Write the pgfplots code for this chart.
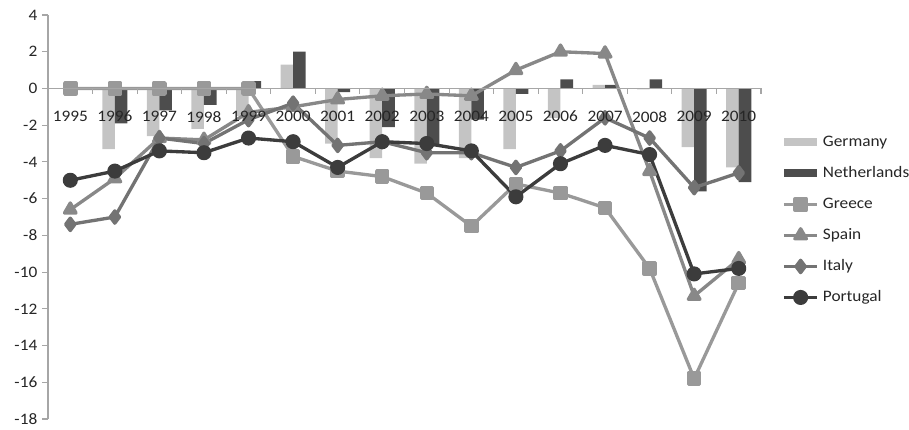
\documentclass[border=0pt]{standalone}
\usepackage{fontspec}
\setmainfont{Carlito}[FakeStretch=1.08]
\usepackage{pgfplots}
\pgfplotsset{compat=1.18}
\usepackage{pgfplotstable}

\definecolor{cger}{HTML}{C4C4C4}
\definecolor{cned}{HTML}{4D4D4D}
\definecolor{cgre}{HTML}{999999}
\definecolor{cspa}{HTML}{888888}
\definecolor{cita}{HTML}{737373}
\definecolor{cpor}{HTML}{3C3C3C}
\definecolor{caxis}{HTML}{A6A6A6}
\definecolor{ctext}{HTML}{262626}

\pgfplotstableread{
x G N
1 -3.3 -1.9
2 -2.6 -1.2
3 -2.2 -0.9
4 -1.5 0.4
5 1.3 2.0
6 -3.0 -0.2
7 -3.8 -2.1
8 -4.1 -3.1
9 -3.8 -1.7
10 -3.3 -0.3
11 -1.6 0.5
12 0.2 0.2
13 -0.05 0.5
14 -3.2 -5.6
15 -4.3 -5.1
}\bardata

\pgfplotstableread{
x Gr Sp It Pt
0 0 -6.6 -7.4 -5.0
1 0 -4.9 -7.0 -4.5
2 0 -2.7 -2.7 -3.4
3 0 -2.8 -3.0 -3.5
4 0 -1.3 -1.7 -2.7
5 -3.7 -1.0 -0.8 -2.9
6 -4.5 -0.6 -3.1 -4.3
7 -4.8 -0.4 -2.9 -2.9
8 -5.7 -0.3 -3.5 -3.0
9 -7.5 -0.4 -3.5 -3.4
10 -5.2 1.0 -4.3 -5.9
11 -5.7 2.0 -3.4 -4.1
12 -6.5 1.9 -1.6 -3.1
13 -9.8 -4.5 -2.7 -3.6
14 -15.8 -11.3 -5.4 -10.1
15 -10.6 -9.3 -4.6 -9.8
}\linedata

\pgfplotsset{
  barleg/.style={legend image code/.code={\fill[##1] (0pt,-3pt) rectangle (25pt,3pt);}},
  lineleg/.style={legend image code/.code={\draw[mark repeat=2,mark phase=2,##1] plot coordinates {(0pt,0pt) (12.5pt,0pt) (25pt,0pt)};}},
}

\begin{document}
\begin{tikzpicture}
\begin{axis}[
  set layers=axis on top,
  at={(36pt,7.5pt)}, anchor=south west,
  width=534.75pt, height=303pt, scale only axis,
  xmin=-0.5, xmax=15.5, ymin=-18, ymax=4,
  axis x line=middle, axis y line=left,
  x axis line style={-, draw=caxis, line width=0.8pt},
  y axis line style={-, draw=caxis, line width=0.8pt},
  every inner x axis line/.append style={-},
  every outer y axis line/.append style={-},
  hide obscured x ticks=false, hide obscured y ticks=false,
  xtick={0,...,15},
  xticklabels={1995,1996,1997,1998,1999,2000,2001,2002,2003,2004,2005,2006,2007,2008,2009,2010},
  major x tick style={draw=none},
  minor xtick={-0.5,0.5,...,15.5},
  minor x tick style={draw=caxis, line width=0.8pt},
  ytick={-18,-16,...,4},
  y tick style={draw=caxis, line width=0.8pt},
  tick align=outside,
  major tick length=4.5pt, minor tick length=4pt,
  xticklabel style={font=\fontsize{12}{14}\selectfont, text=ctext, yshift=-9pt},
  yticklabel style={font=\fontsize{12}{14}\selectfont, text=ctext},
  /pgf/number format/assume math mode=true,
  legend style={at={(1.0295,0.705)}, anchor=north west, draw=none, fill=none,
    inner sep=0pt, row sep=11.25pt, font=\fontsize{12}{14}\selectfont, text=ctext,
    nodes={inner xsep=3pt, inner ysep=0pt, text height=9pt, text depth=3pt}},
  legend cell align=left,
]
\addplot[ybar, bar width=9.4pt, bar shift=-4.7pt, fill=cger, draw=none, barleg] table[x=x,y=G]{\bardata};
\addlegendentry{Germany}
\addplot[ybar, bar width=9.4pt, bar shift=4.7pt, fill=cned, draw=none, barleg] table[x=x,y=N]{\bardata};
\addlegendentry{Netherlands}
\addplot[color=cgre, line width=2.5pt, line join=round, mark=square*, mark size=4.2pt, mark options={solid}, lineleg] table[x=x,y=Gr]{\linedata};
\addlegendentry{Greece}
\addplot[color=cspa, line width=2.5pt, line join=round, mark=triangle*, mark size=5pt, mark options={solid}, lineleg] table[x=x,y=Sp]{\linedata};
\addlegendentry{Spain}
\addplot[color=cita, line width=2.5pt, line join=round, mark=diamond*, mark size=4.6pt, mark options={solid}, lineleg] table[x=x,y=It]{\linedata};
\addlegendentry{Italy}
\addplot[color=cpor, line width=2.5pt, line join=round, mark=*, mark size=4.4pt, mark options={solid}, lineleg] table[x=x,y=Pt]{\linedata};
\addlegendentry{Portugal}
\end{axis}
\pgfresetboundingbox
\useasboundingbox (0,0) rectangle (681.75pt,321.75pt);
\end{tikzpicture}
\end{document}
